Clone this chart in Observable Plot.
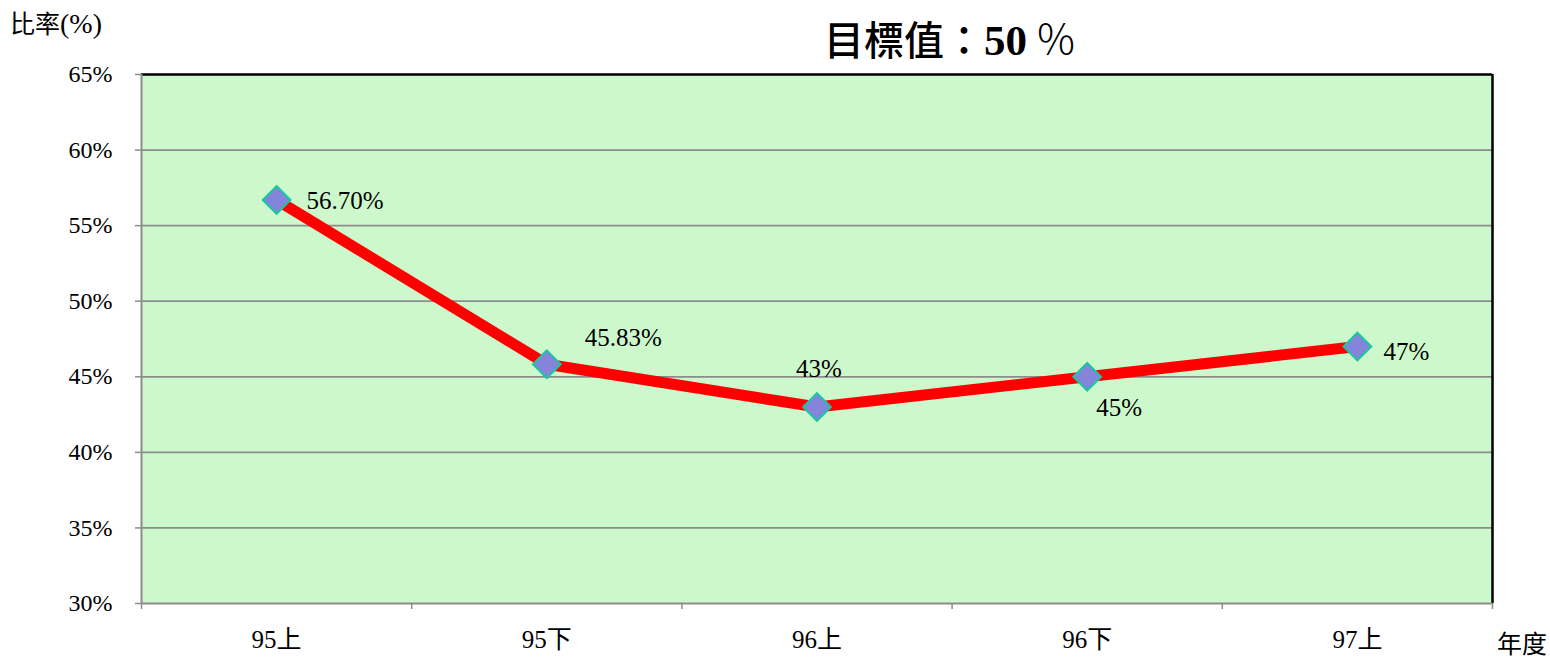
<!DOCTYPE html>
<html>
<head>
<meta charset="utf-8">
<script src="https://cdn.jsdelivr.net/npm/d3@7"></script>
<script src="https://cdn.jsdelivr.net/npm/@observablehq/plot@0.6"></script>
<style>
  body { margin: 0; background: white; }
  #wrap { position: relative; width: 1550px; height: 658px; font-family: "Liberation Serif", "Noto Sans CJK TC", serif; }
  .ov { position: absolute; white-space: nowrap; color: #000; }
</style>
</head>
<body>
<div id="wrap">
  <div class="ov" id="title" style="left:824px; top:12px; font-size:40px; line-height:50px;"><span style="font-family:'Noto Sans CJK TC'; font-weight:500;">目標值：</span><span style="font-weight:bold; font-size:43px;">50</span><span style="font-family:'Noto Sans CJK TC'; font-weight:300; font-size:42px; margin-left:8px;">％</span></div>
  <div class="ov" id="ylab" style="left:10px; top:9px; font-size:25px; line-height:30px;">比率<span style="font-size:28px;">(%)</span></div>
  <div class="ov" id="xlab" style="left:1497px; top:630px; font-size:25px; line-height:30px;">年度</div>
</div>
<script>
const categories = ["95上", "95下", "96上", "96下", "97上"];
const values = [56.70, 45.83, 43, 45, 47];
const valueLabels = ["56.70%", "45.83%", "43%", "45%", "47%"];
const yTicks = [30, 35, 40, 45, 50, 55, 60, 65];

const data = categories.map((c, i) => ({i: i + 0.5, cat: c, v: values[i], label: valueLabels[i]}));

// label placement offsets (style, not data)
const labelStyle = [
  {dx: 30, dy: 1, textAnchor: "start"},
  {dx: 38, dy: -26, textAnchor: "start"},
  {dx: 2, dy: -38, textAnchor: "middle"},
  {dx: 9, dy: 31, textAnchor: "start"},
  {dx: 26, dy: 5, textAnchor: "start"}
];

const grid = "#8c8c8c";

const chart = Plot.plot({
  width: 1550,
  height: 658,
  marginLeft: 141,
  marginRight: 58,
  marginTop: 74,
  marginBottom: 55,
  style: {fontFamily: "'Liberation Serif', 'Noto Sans CJK TC', serif", fontSize: "25px", color: "black", background: "transparent", overflow: "visible"},
  x: {type: "linear", domain: [0, categories.length]},
  y: {type: "linear", domain: [30, 65]},
  marks: [
    Plot.frame({fill: "#CCF8CC", stroke: "none"}),
    Plot.ruleY(yTicks.slice(1, -1), {stroke: grid, strokeWidth: 1.8}),
    Plot.ruleY([65], {stroke: "black", strokeWidth: 2.5}),
    Plot.ruleX([categories.length], {stroke: "black", strokeWidth: 2.5}),
    Plot.ruleX([0], {stroke: grid, strokeWidth: 2}),
    Plot.ruleY([30], {stroke: grid, strokeWidth: 2}),
    Plot.axisY({ticks: yTicks, tickFormat: d => d + "%", tickSize: 6, tickPadding: 23, stroke: grid, strokeWidth: 1.5, label: null, fontSize: 24}),
    Plot.axisX({ticks: d3.range(0, categories.length + 1), tickFormat: () => "", tickSize: 6, stroke: grid, strokeWidth: 1.5, label: null}),
    Plot.axisX({ticks: data.map(d => d.i), tickFormat: t => categories[Math.round(t - 0.5)], tickSize: 0, tickPadding: 27, label: null, fontSize: 25}),
    Plot.line(data, {x: "i", y: "v", stroke: "#FF0000", strokeWidth: 11, strokeLinejoin: "round", strokeLinecap: "butt"}),
    Plot.dot(data, {x: "i", y: "v", symbol: "diamond2", r: 12.5, fill: "#8484DA", stroke: "#18C8A0", strokeWidth: 2}),
    ...data.map((d, k) => Plot.text([d], {x: "i", y: "v", text: "label", fontSize: 25, fill: "black", ...labelStyle[k]}))
  ]
});
chart.style.position = "absolute";
chart.style.left = "0px";
chart.style.top = "0px";
document.getElementById("wrap").prepend(chart);
</script>
</body>
</html>
